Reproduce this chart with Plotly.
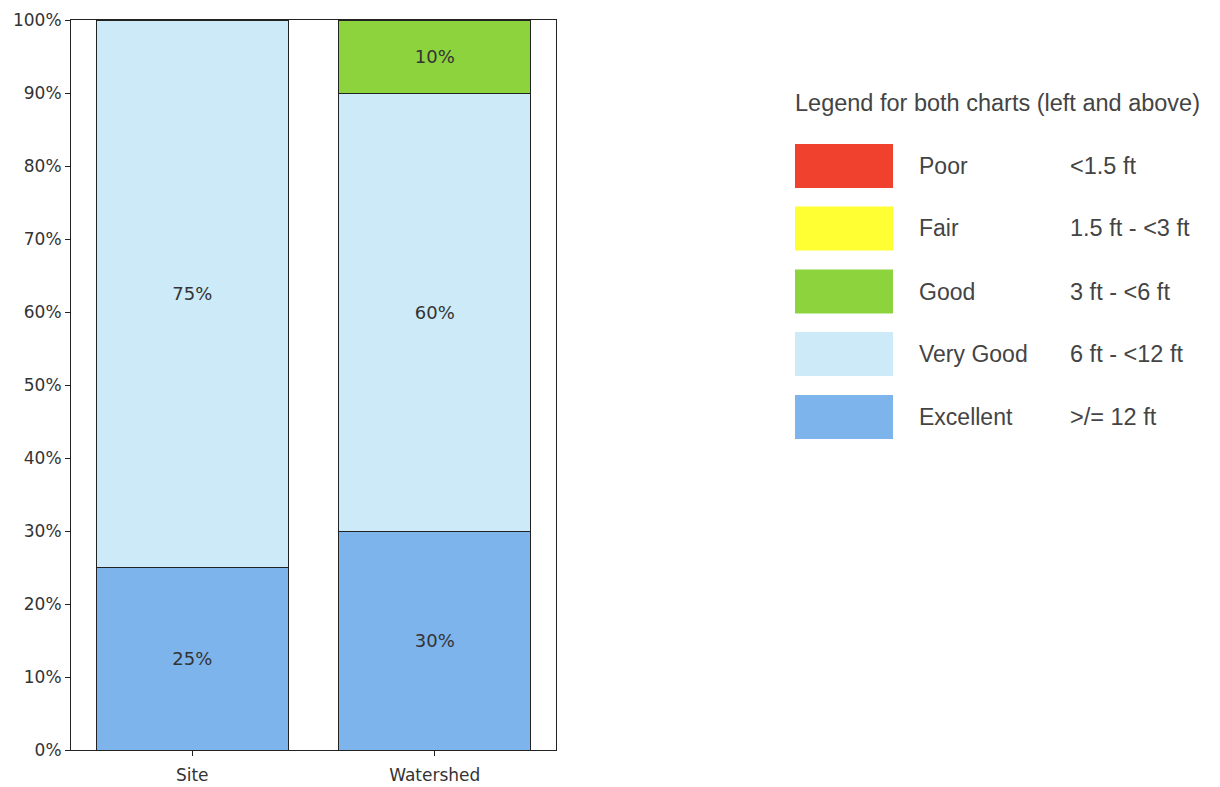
import plotly.graph_objects as go

categories = ["Site", "Watershed"]
series_names = ["Excellent", "Very Good", "Good"]
series_values = {
    "Excellent": [25, 30],
    "Very Good": [75, 60],
    "Good": [0, 10],
}
colors = {
    "Poor": "#F0412E",
    "Fair": "#FFFF33",
    "Good": "#8CD33E",
    "Very Good": "#CDEAF8",
    "Excellent": "#7EB4EC",
}
legend_names = ["Poor", "Fair", "Good", "Very Good", "Excellent"]
legend_ranges = ["<1.5 ft", "1.5 ft - <3 ft", "3 ft - <6 ft", "6 ft - <12 ft", ">/= 12 ft"]
y_ticks = list(range(0, 101, 10))

W, H = 1220, 787
L, R, T, B = 71, 556, 20, 750

def px(x):
    return (x - L) / (R - L)

def py(y):
    return (B - y) / (B - T)

fig = go.Figure()
for name in series_names:
    vals = series_values[name]
    fig.add_trace(go.Bar(
        x=categories, y=vals, name=name,
        marker=dict(color=colors[name], line=dict(color="#222", width=1)),
        text=[f"{v}%" if v > 0 else "" for v in vals],
        textposition="inside", insidetextanchor="middle",
        textfont=dict(family="DejaVu Sans", size=18, color="#333"),
        width=0.79, showlegend=False,
    ))

shapes = []
annotations = []
annotations.append(dict(
    xref="paper", yref="paper", x=px(793), y=py(103), xanchor="left", yanchor="middle",
    text="Legend for both charts (left and above)", showarrow=False,
    font=dict(family="Liberation Sans", size=23.5, color="#444")))
row_centers = [166, 228.5, 291.5, 354, 417]
for name, rng, cy in zip(legend_names, legend_ranges, row_centers):
    shapes.append(dict(type="rect", xref="paper", yref="paper",
                       x0=px(795), x1=px(893), y0=py(cy + 22), y1=py(cy - 22),
                       fillcolor=colors[name], line=dict(width=0)))
    annotations.append(dict(xref="paper", yref="paper", x=px(917), y=py(cy),
                            xanchor="left", yanchor="middle", text=name, showarrow=False,
                            font=dict(family="Liberation Sans", size=23, color="#444")))
    annotations.append(dict(xref="paper", yref="paper", x=px(1068), y=py(cy),
                            xanchor="left", yanchor="middle", text=rng, showarrow=False,
                            font=dict(family="Liberation Sans", size=23.5, color="#444")))

fig.update_layout(
    barmode="stack", width=W, height=H,
    margin=dict(l=L, r=W - R, t=T, b=H - B, pad=0),
    plot_bgcolor="white", paper_bgcolor="white",
    shapes=shapes, annotations=annotations,
    xaxis=dict(range=[-0.5, 1.5], showline=True, linecolor="#222", mirror=True,
               ticks="outside", ticklen=5, tickcolor="#222", automargin=False,
               ticklabelstandoff=5,
               tickfont=dict(family="DejaVu Sans", size=17, color="#333"), showgrid=False),
    yaxis=dict(range=[0, 100], tickvals=y_ticks, ticktext=[f"{v}%" for v in y_ticks],
               showline=True, linecolor="#222", mirror=True, automargin=False,
               ticks="outside", ticklen=5, tickcolor="#222",
               tickfont=dict(family="DejaVu Sans", size=17, color="#333"), showgrid=False),
)
fig.write_html("out.html")
